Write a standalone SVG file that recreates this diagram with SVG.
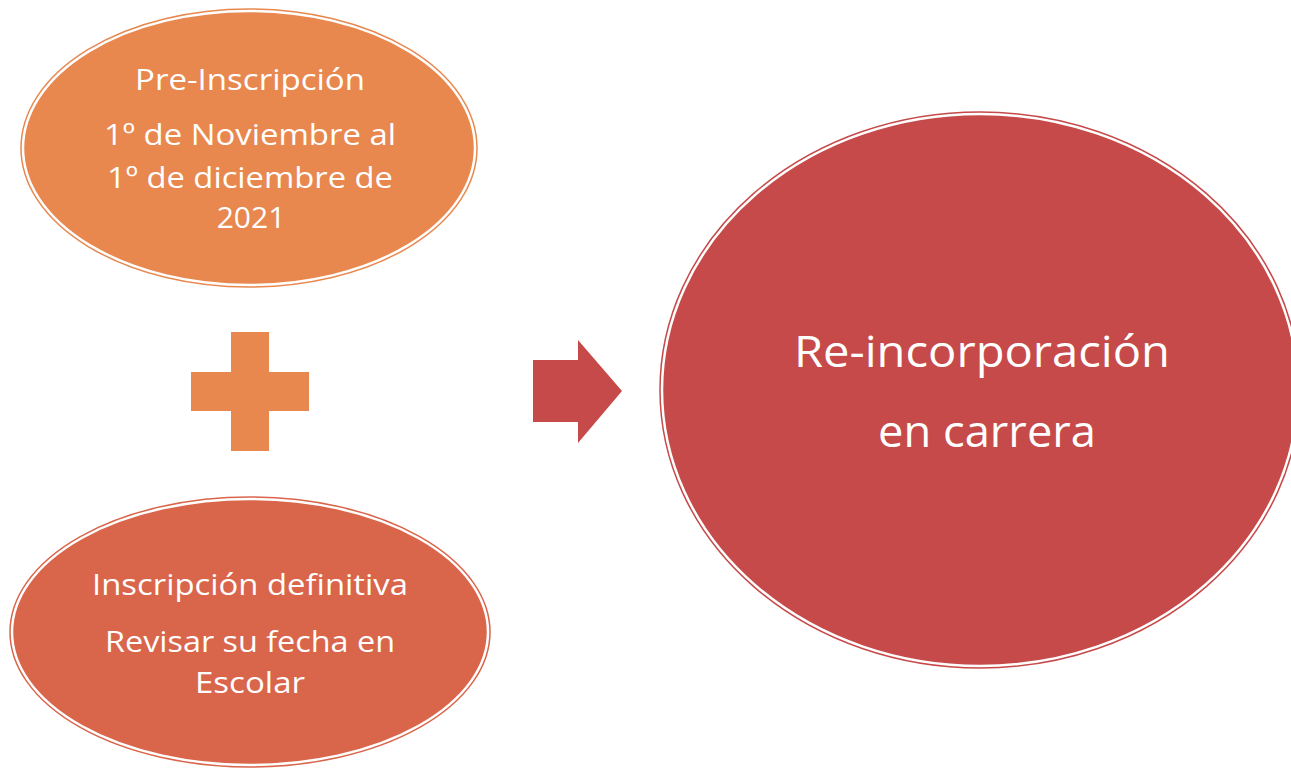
<svg xmlns="http://www.w3.org/2000/svg" width="1291" height="768" viewBox="0 0 1291 768">
<style>
text{font-family:"Open Sans","Noto Sans","Liberation Sans",sans-serif;fill:#ffffff;text-anchor:middle}
.s{font-size:30px}
.b{font-size:44px}
.inner{stroke:#ffffff;stroke-width:2.5}
.ring{fill:none;stroke-width:1.5}
</style>
<rect width="1291" height="768" fill="#ffffff"/>
<g id="node-pre">
<ellipse cx="249" cy="148" rx="226" ry="137" fill="#E8884F" class="inner"/>
<ellipse cx="249" cy="148" rx="228" ry="139" class="ring" stroke="#E8884F"/>
<text class="s" x="250" y="90" textLength="230" lengthAdjust="spacingAndGlyphs">Pre-Inscripción</text>
<text class="s" x="250" y="145" textLength="292" lengthAdjust="spacingAndGlyphs">1º de Noviembre al</text>
<text class="s" x="250" y="188" textLength="286" lengthAdjust="spacingAndGlyphs">1º de diciembre de</text>
<text class="s" x="251" y="228">2021</text>
</g>
<g id="node-def">
<ellipse cx="250" cy="632" rx="238" ry="133" fill="#D9654B" class="inner"/>
<ellipse cx="250" cy="632" rx="240" ry="135" class="ring" stroke="#D9654B"/>
<text class="s" x="250" y="595" textLength="316" lengthAdjust="spacingAndGlyphs">Inscripción definitiva</text>
<text class="s" x="250" y="652" textLength="290" lengthAdjust="spacingAndGlyphs">Revisar su fecha en</text>
<text class="s" x="250" y="693" textLength="110" lengthAdjust="spacingAndGlyphs">Escolar</text>
</g>
<g id="node-reinc">
<ellipse cx="980" cy="390" rx="318" ry="276" fill="#C64A49" class="inner"/>
<ellipse cx="980" cy="390" rx="320" ry="278" class="ring" stroke="#C64A49"/>
<text class="b" x="982" y="367" textLength="376" lengthAdjust="spacingAndGlyphs">Re-incorporación</text>
<text class="b" x="987" y="447" textLength="218" lengthAdjust="spacingAndGlyphs">en carrera</text>
</g>
<g id="connectors">
<path d="M231 332H269V372H309V411H269V451H231V411H191V372H231Z" fill="#E8884F"/>
<path d="M533 360H578V340L622 391L578 443V422H533Z" fill="#C64A49"/>
</g>
</svg>
